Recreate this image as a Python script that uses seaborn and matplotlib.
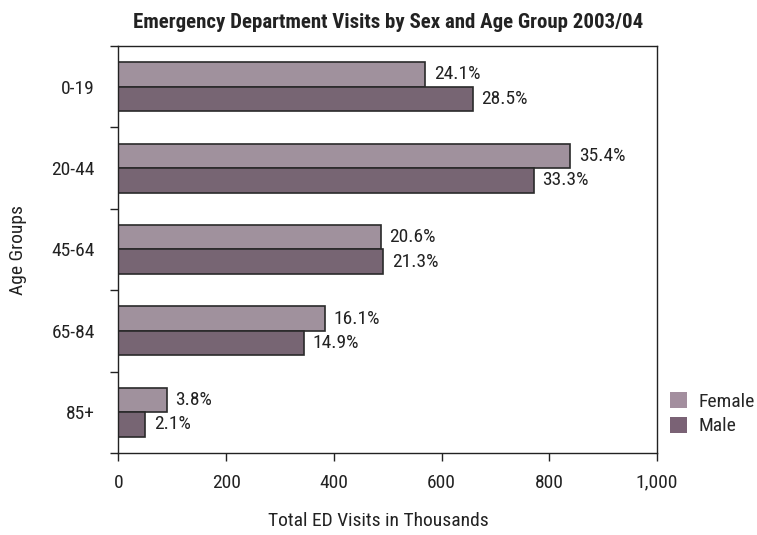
import matplotlib
matplotlib.use("Agg")
import matplotlib.pyplot as plt
from matplotlib import font_manager
import seaborn as sns
import pandas as pd
from matplotlib.patches import Patch

age_groups = ["0-19", "20-44", "45-64", "65-84", "85+"]
female_visits = [570, 839, 487, 384, 90]
male_visits = [658, 771, 492, 344, 50]
female_pct = ["24.1%", "35.4%", "20.6%", "16.1%", "3.8%"]
male_pct = ["28.5%", "33.3%", "21.3%", "14.9%", "2.1%"]
x_ticks = [0, 200, 400, 600, 800, 1000]
x_tick_labels = ["0", "200", "400", "600", "800", "1,000"]

sexes = ["Female", "Male"]
colors = {"Female": "#A38E9E", "Male": "#7A6275"}

df = pd.DataFrame({
    "age": age_groups * 2,
    "sex": ["Female"] * len(age_groups) + ["Male"] * len(age_groups),
    "visits": female_visits + male_visits,
})

sns.set_theme(style="white")
names = {f.name for f in font_manager.fontManager.ttflist}
fam = "Liberation Sans"
for cand in ["Roboto Condensed", "Liberation Sans Narrow", "Open Sans Condensed", "Liberation Sans"]:
    if cand in names:
        fam = cand
        break
narrow = fam != "Liberation Sans"
fs = 14 if narrow else 12
tfs = 15 if narrow else 12.5
plt.rcParams["font.family"] = [fam, "DejaVu Sans"]

fig = plt.figure(figsize=(7.57, 5.35), dpi=100)
ax = fig.add_axes([0.1565, 0.1533, 0.7115, 0.7607])

sns.barplot(data=df, y="age", x="visits", hue="sex", order=age_groups,
            hue_order=sexes, palette=colors, orient="h", width=0.6,
            edgecolor="#2a2a2a", linewidth=1.2, legend=False, ax=ax)

for cont, labs in zip(ax.containers, [female_pct, male_pct]):
    ax.bar_label(cont, labels=labs, padding=6, fontsize=fs, color="#222222")

ax.set_xlim(0, 1000)
ax.set_ylim(len(age_groups) - 0.5, -0.5)
ax.set_xticks(x_ticks)
ax.set_xticklabels(x_tick_labels, fontsize=fs, color="#222222")
ax.set_yticks(range(len(age_groups)))
ax.set_yticklabels(age_groups, fontsize=fs, color="#222222")
ax.set_yticks([i - 0.5 for i in range(len(age_groups) + 1)], minor=True)
ax.tick_params(axis="y", which="major", length=0, pad=17)
ax.tick_params(axis="y", which="minor", length=6, width=1, color="#222222", direction="out", left=True)
ax.tick_params(axis="x", which="major", length=6, width=1, color="#222222", direction="out", bottom=True, pad=9)

for s in ax.spines.values():
    s.set_visible(True)
    s.set_color("#222222")
    s.set_linewidth(1.0)

ax.set_xlabel("Total ED Visits in Thousands", fontsize=fs, color="#222222")
ax.xaxis.set_label_coords(0.5, 1 - 512 / 535, transform=fig.transFigure)
ax.xaxis.label.set_x(0.5)
ax.set_ylabel("Age Groups", fontsize=fs, color="#222222")
ax.yaxis.set_label_coords(27 / 757, 1 - 250 / 535, transform=fig.transFigure)
ax.set_title("Emergency Department Visits by Sex and Age Group 2003/04",
             fontsize=tfs, fontweight="bold", color="#222222", pad=13)

handles = [Patch(facecolor=colors[s], edgecolor="none") for s in sexes]
fig.legend(handles, sexes, loc="upper left", bbox_to_anchor=(670 / 757, 1 - 392 / 535),
           frameon=False, fontsize=fs, handlelength=0.85, handleheight=0.9,
           handletextpad=0.6, labelspacing=0.3, borderaxespad=0, borderpad=0)

fig.savefig("out.png", dpi=100)
